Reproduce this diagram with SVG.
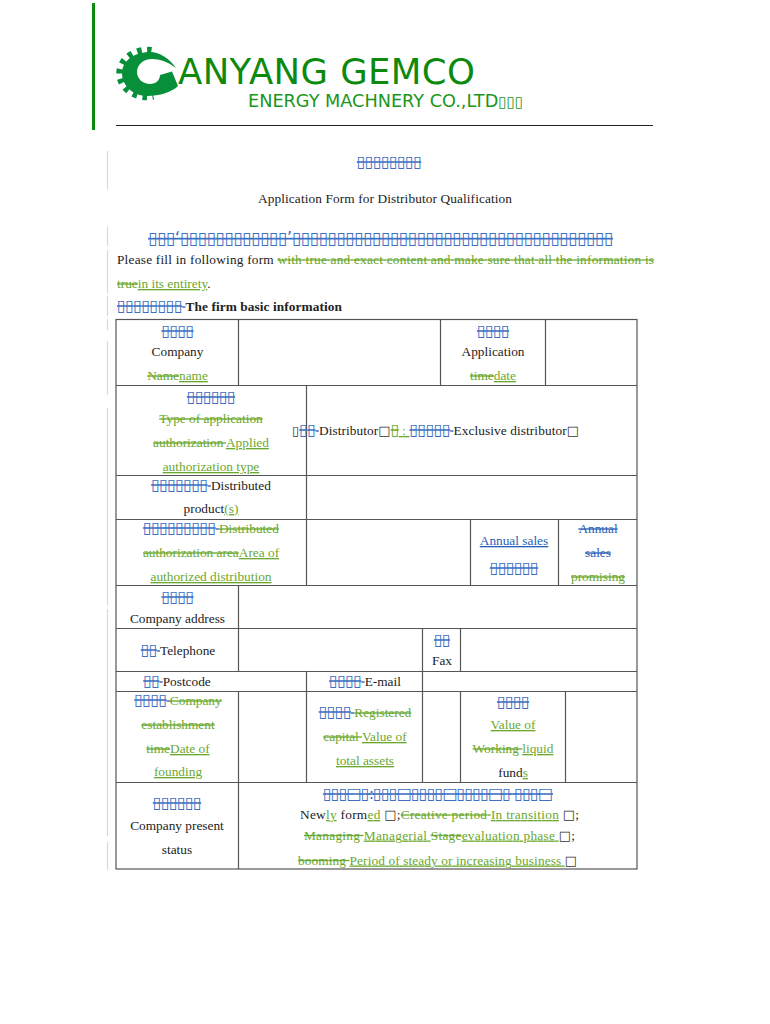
<svg xmlns="http://www.w3.org/2000/svg" width="770" height="1024" viewBox="0 0 770 1024">
<style>
text{font-family:"Liberation Serif",serif;font-size:13.33px;fill:#222}
.c{text-anchor:middle}
.g{fill:#6aa82f}
.b{fill:#2a60b8}
.s{text-decoration:line-through}
.u{text-decoration:underline}
.t{font-family:"DejaVu Sans",sans-serif;font-size:16px;letter-spacing:-0.750px;fill:#3f6fc0;text-decoration:line-through}
.k{font-family:"DejaVu Sans",sans-serif;font-size:13px;fill:#333}
.grid{stroke:#555;stroke-width:1.200;fill:none}
.bar{stroke:#d8d8d8;stroke-width:1.200;fill:none}
</style>
<defs><clipPath id="tc"><path d="M157,40L110,40L110,110L157,110L147,73Z"/></clipPath></defs>
<rect width="770" height="1024" fill="#fff"/>
<g id="header">
<rect x="92" y="3" width="3" height="127" fill="#0d8a0d"/>
<g id="logo" fill="#078f3a">
<ellipse cx="147" cy="73.500" rx="27.500" ry="23.500" fill="none" stroke="#078f3a" stroke-width="6.500" stroke-dasharray="4.500 5.500" clip-path="url(#tc)"/>
<path d="M150,52C160,52 170,59 176,68C168,62 160,59 152,59C143,59 137,65 137,72C137,79 143,84 150,84C156,84 160,80 160,75L172,71.500L178,86C172,92 160,96 147,96C134,96 122,86 122,73.500C122,61 134,52 150,52Z"/>
</g>
<text x="178" y="83.500" textLength="297" style="font-family:'DejaVu Sans',sans-serif;font-size:35.500px;fill:#0d8a0d">ANYANG GEMCO</text>
<text x="248" y="107" textLength="275" style="font-family:'DejaVu Sans',sans-serif;font-size:17.700px;fill:#1a961a">ENERGY MACHNERY CO.,LTD<tspan font-size="15">▯▯▯</tspan></text>
<line x1="116" y1="125.500" x2="653" y2="125.500" stroke="#222" stroke-width="1"/>
</g>
<g id="margin-marks" class="bar">
<path d="M107.500,151V189M107.500,227V246M107.500,250V293M107.500,296V316M107.500,319V330M107.500,341V395M107.500,408V605M107.500,609V836M107.500,842V870"/>
</g>
<g id="table-grid" class="grid">
<rect x="116" y="319.500" width="521" height="549.500"/>
<path d="M116,385.500H637M116,475.500H637M116,519.500H637M116,585.500H637M116,628.500H637M116,671.500H637M116,691.500H637M116,782.500H637"/>
<path d="M238.500,319V385M440.500,319V385M545.500,319V385M306.500,385V585M470.500,519V585M558.500,519V585M238.500,585V671M422.500,628V782M460.500,628V671M306.500,671V782M238.500,691V782M460.500,691V782M565.500,691V782M238.500,782V869"/>
</g>
<g id="title">
<text class="t c" x="389" y="167">▯▯▯▯▯▯▯▯</text>
<text class="c" x="385" y="203" textLength="254">Application Form for Distributor Qualification</text>
</g>
<g id="intro">
<text class="t" x="148" y="244" textLength="465" style="font-size:17px;letter-spacing:0">▯▯▯‘▯▯▯▯▯▯▯▯▯▯▯▯’▯▯▯▯▯▯▯▯▯▯▯▯▯▯▯▯▯▯▯▯▯▯▯▯▯▯▯▯▯▯▯▯▯▯▯▯</text>
<text x="117" y="264" textLength="537">Please fill in following form <tspan class="g s">with true and exact content and make sure that all the information is</tspan></text>
<text x="117" y="288"><tspan class="g s">true</tspan><tspan class="g u">in its entirety</tspan>.</text>
<text x="117" y="311" textLength="225"><tspan class="t">▯▯▯▯▯▯▯▯</tspan><tspan class="b s"> </tspan><tspan font-weight="bold">The firm basic information</tspan></text>
</g>
<g id="r1">
<text class="t c" x="177.500" y="336">▯▯▯▯</text>
<text class="c" x="177.500" y="356">Company</text>
<text class="c" x="177.500" y="380"><tspan class="g s">Name</tspan><tspan class="g u">name</tspan></text>
<text class="t c" x="493" y="336">▯▯▯▯</text>
<text class="c" x="493" y="356">Application</text>
<text class="c" x="493" y="380"><tspan class="g s">time</tspan><tspan class="g u">date</tspan></text>
</g>
<g id="r2">
<text class="t c" x="211" y="402">▯▯▯▯▯▯</text>
<text class="c g s" x="211" y="423">Type of application</text>
<text class="c" x="211" y="447"><tspan class="g s">authorization </tspan><tspan class="g u">Applied</tspan></text>
<text class="c g u" x="211" y="471">authorization type</text>
<text x="292" y="435" textLength="287"><tspan class="k">▯</tspan><tspan class="t">▯▯</tspan><tspan class="b s"> </tspan>Distributor<tspan class="k">□</tspan><tspan class="t" style="fill:#6aa82f">▯</tspan><tspan class="g u"> : </tspan><tspan class="t">▯▯▯▯▯</tspan><tspan class="b s"> </tspan>Exclusive distributor<tspan class="k">□</tspan></text>
</g>
<g id="r3">
<text class="c" x="211" y="490"><tspan class="t">▯▯▯▯▯▯▯</tspan><tspan class="b s"> </tspan>Distributed</text>
<text class="c" x="211" y="513">product<tspan class="g u">(s)</tspan></text>
</g>
<g id="r4">
<text class="c" x="211" y="533"><tspan class="t">▯▯▯▯▯▯▯▯▯</tspan><tspan class="b s"> </tspan><tspan class="g s">Distributed</tspan></text>
<text class="c" x="211" y="557"><tspan class="g s">authorization area</tspan><tspan class="g u">Area of</tspan></text>
<text class="c g u" x="211" y="581">authorized distribution</text>
<text class="c b u" x="514" y="545">Annual sales</text>
<text class="c" x="514" y="573"><tspan class="t">▯▯▯▯▯▯</tspan><tspan class="b u"> </tspan></text>
<text class="c b s" x="598" y="533">Annual</text>
<text class="c b s" x="598" y="557">sales</text>
<text class="c g s" x="598" y="581">promising</text>
</g>
<g id="r5">
<text class="t c" x="177.500" y="602">▯▯▯▯</text>
<text class="c" x="177.500" y="623">Company address</text>
</g>
<g id="r6">
<text class="c" x="178" y="655"><tspan class="t">▯▯</tspan><tspan class="b s"> </tspan>Telephone</text>
<text class="t c" x="442" y="645">▯▯</text>
<text class="c" x="442" y="665">Fax</text>
</g>
<g id="r7">
<text class="c" x="177" y="686"><tspan class="t">▯▯</tspan><tspan class="b s"> </tspan>Postcode</text>
<text class="c" x="365" y="686"><tspan class="t">▯▯▯▯</tspan><tspan class="b s"> </tspan>E-mail</text>
</g>
<g id="r8">
<text class="c" x="178" y="705"><tspan class="t">▯▯▯▯</tspan><tspan class="b s"> </tspan><tspan class="g s">Company</tspan></text>
<text class="c g s" x="178" y="729">establishment</text>
<text class="c" x="178" y="753"><tspan class="g s">time</tspan><tspan class="g u">Date of</tspan></text>
<text class="c g u" x="178" y="776">founding</text>
<text class="c" x="365" y="717"><tspan class="t">▯▯▯▯</tspan><tspan class="b s"> </tspan><tspan class="g s">Registered</tspan></text>
<text class="c" x="365" y="741"><tspan class="g s">capital </tspan><tspan class="g u">Value of</tspan></text>
<text class="c g u" x="365" y="765">total assets</text>
<text class="t c" x="513" y="707">▯▯▯▯</text>
<text class="c g u" x="513" y="729">Value of</text>
<text class="c" x="513" y="753"><tspan class="g s">Working </tspan><tspan class="g u">liquid</tspan></text>
<text class="c" x="513" y="777">fund<tspan class="g u">s</tspan></text>
</g>
<g id="r9">
<text class="t c" x="177" y="808">▯▯▯▯▯▯</text>
<text class="c" x="177" y="830">Company present</text>
<text class="c" x="177" y="854">status</text>
<text class="t" x="323" y="799" textLength="230" style="letter-spacing:0">▯▯▯□▯:▯▯▯□▯▯▯▯□▯▯▯▯□▯ ▯▯▯□</text>
<text x="300" y="819" textLength="279">New<tspan class="g u">ly</tspan> form<tspan class="g u">ed</tspan> <tspan class="k">□</tspan>;<tspan class="g s">Creative period </tspan><tspan class="g u">In transition</tspan> <tspan class="k">□</tspan>;<tspan class="g u"> </tspan></text>
<text x="304" y="839.500" textLength="271"><tspan class="g s">Managing </tspan><tspan class="g u">Managerial </tspan><tspan class="g s">Stage</tspan><tspan class="g u">evaluation phase </tspan><tspan class="k">□</tspan>;<tspan class="g u"> </tspan></text>
<text x="298" y="864.500" textLength="279"><tspan class="g s">booming </tspan><tspan class="g u">Period of steady or increasing business </tspan><tspan class="k">□</tspan></text>
</g>
</svg>
